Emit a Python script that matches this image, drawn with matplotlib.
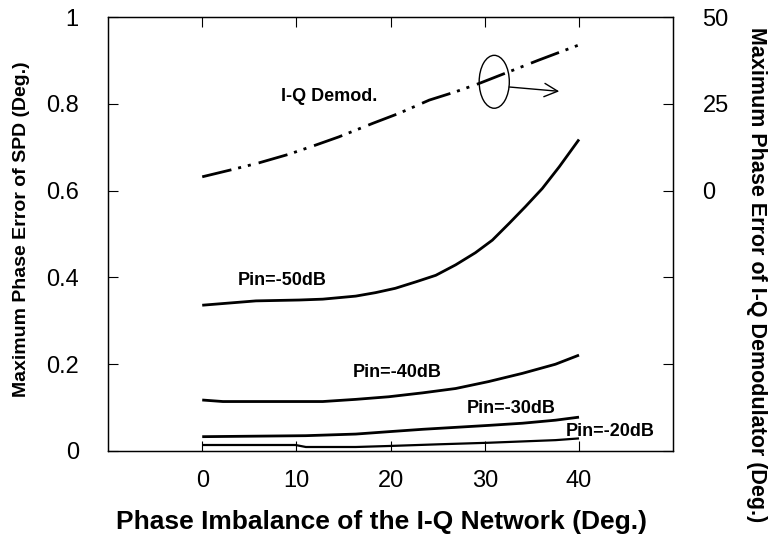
import matplotlib
matplotlib.use("Agg")
import matplotlib.pyplot as plt
from matplotlib.patches import Ellipse

plt.rcParams["font.family"] = ["Liberation Sans", "DejaVu Sans"]

# I-Q demodulator: phase imbalance (deg.) vs max phase error (deg., right axis)
x_demod = [0, 2.9, 6.0, 9.2, 12.0, 14.5, 18.1, 20.9, 24.1, 26.9, 29.4,
           32.6, 35.7, 40.0]
demod_err = [4.0, 5.9, 8.0, 10.5, 13.1, 15.5, 19.4, 22.3, 26.1, 28.5, 30.9,
             34.3, 37.6, 42.0]

# SPD max phase error (deg., left axis) for each input power
x_pin50 = [0, 5.7, 10.3, 12.8, 16.3, 18.4, 20.5, 22.7, 24.8, 26.9, 29.0,
           30.8, 32.6, 34.3, 36.1, 37.9, 40.0]
pin50 = [0.336, 0.346, 0.348, 0.350, 0.357, 0.365, 0.375, 0.390, 0.405,
         0.429, 0.457, 0.486, 0.525, 0.563, 0.605, 0.655, 0.718]

x_pin40 = [0, 2.2, 12.8, 16.3, 19.8, 23.4, 26.9, 30.4, 34.0, 37.5, 40.0]
pin40 = [0.1175, 0.114, 0.114, 0.119, 0.125, 0.134, 0.144, 0.160, 0.179,
         0.200, 0.221]

x_pin30 = [0, 11.0, 16.3, 19.8, 23.4, 26.9, 30.4, 34.0, 37.5, 40.0]
pin30 = [0.033, 0.0353, 0.039, 0.0445, 0.050, 0.0545, 0.059, 0.064, 0.071,
         0.078]

x_pin20 = [0, 9.9, 11.0, 16.3, 19.8, 25.1, 30.4, 37.5, 40.0]
pin20 = [0.0138, 0.0138, 0.0092, 0.0092, 0.0115, 0.0154, 0.019, 0.025, 0.029]

pin_labels = ["Pin=-50dB", "Pin=-40dB", "Pin=-30dB", "Pin=-20dB"]
pin_label_pos = [(8.5, 0.392), (20.7, 0.182), (32.8, 0.099), (43.3, 0.046)]

x_ticks = [0, 10, 20, 30, 40]
left_ticks = [0, 0.2, 0.4, 0.6, 0.8, 1.0]
left_ticklabels = ["0", "0.2", "0.4", "0.6", "0.8", "1"]
right_ticks = [-75, -50, -25, 0, 25, 50]
right_ticklabels = ["", "", "", "0", "25", "50"]

W, H = 770, 536
fig = plt.figure(figsize=(W / 100, H / 100), dpi=100)
ax = fig.add_axes([0.1403, 0.1586, 0.734, 0.8094])
ax2 = ax.twinx()

ax.set_xlim(-10, 50)
ax.set_ylim(0, 1)
ax2.set_ylim(-75, 50)

lw = 2.0
ax.plot(x_pin50, pin50, color="black", lw=lw, solid_capstyle="butt")
ax.plot(x_pin40, pin40, color="black", lw=lw, solid_capstyle="butt")
ax.plot(x_pin30, pin30, color="black", lw=lw, solid_capstyle="butt")
ax.plot(x_pin20, pin20, color="black", lw=1.6, solid_capstyle="butt")

ax2.plot(x_demod, demod_err, color="black", lw=lw,
         linestyle=(0, (10.8, 2.5, 1.1, 2.5, 1.1, 2.9)))

for label, (tx, ty) in zip(pin_labels, pin_label_pos):
    ax.text(tx, ty, label, ha="center", va="center", fontsize=13,
            fontweight="bold")
ax.text(13.5, 0.816, "I-Q Demod.", ha="center", va="center", fontsize=13,
        fontweight="bold")

ax.add_patch(Ellipse((31.0, 0.851), 3.2, 0.122, fill=False, lw=1.0,
                     color="black"))
ax.annotate("", xy=(37.9, 0.829), xytext=(32.6, 0.839),
            arrowprops=dict(arrowstyle="->", lw=1.0, color="black",
                            mutation_scale=24, shrinkA=0, shrinkB=0))

ax.set_xticks(x_ticks)
ax.set_yticks(left_ticks)
ax.set_yticklabels(left_ticklabels)
ax2.set_yticks(right_ticks)
ax2.set_yticklabels(right_ticklabels)

ax.tick_params(axis="x", direction="in", length=7, width=0.8, top=True,
               labelsize=17, pad=14)
ax.tick_params(axis="y", direction="in", length=7, width=0.8,
               labelsize=17, pad=21)
ax2.tick_params(axis="y", direction="in", length=7, width=0.8,
                labelsize=17, pad=21)

for a in (ax, ax2):
    for s in a.spines.values():
        s.set_linewidth(0.9)

# Axis titles placed in figure pixel coordinates (origin at top-left)
def fig_xy(px, py):
    return px / W, 1 - py / H

fig.text(*fig_xy(381, 522), "Phase Imbalance of the I-Q Network (Deg.)",
         fontsize=19, fontweight="bold", ha="center", va="center")
fig.text(*fig_xy(22, 229), "Maximum Phase Error of SPD (Deg.)",
         fontsize=14, fontweight="bold", ha="center", va="center",
         rotation=90)
fig.text(*fig_xy(757, 275), "Maximum Phase Error of I-Q Demodulator (Deg.)",
         fontsize=15.5, fontweight="bold", ha="center", va="center",
         rotation=-90)

fig.savefig("out.png", dpi=100)
